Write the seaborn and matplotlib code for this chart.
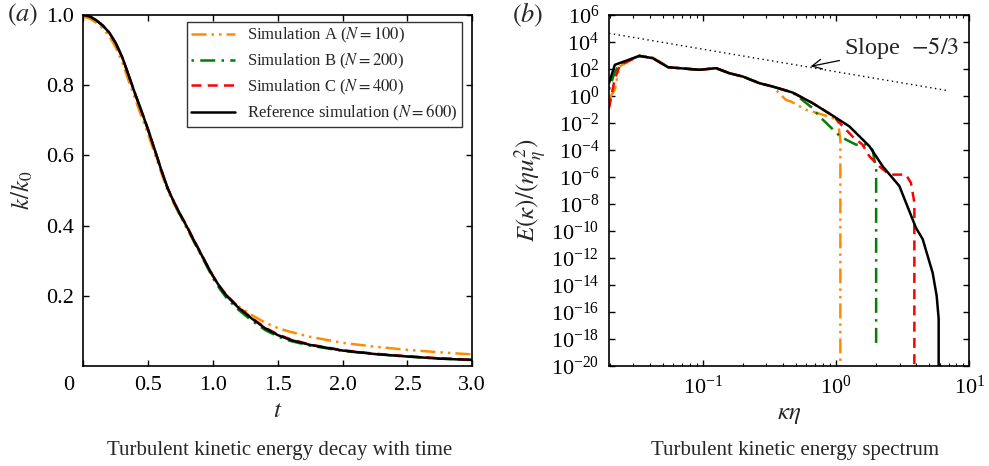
import numpy as np
import pandas as pd
import matplotlib
matplotlib.use("Agg")
import matplotlib.pyplot as plt
import matplotlib.ticker as mticker
import matplotlib.transforms as mtransforms
import seaborn as sns

# ---------------- data: panel (a) kinetic energy decay ----------------
t_grid = [0.0, 0.05, 0.1, 0.15, 0.2, 0.25, 0.3, 0.35, 0.4, 0.45, 0.5, 0.55, 0.6, 0.65, 0.7, 0.75,
          0.8, 0.85, 0.9, 0.95, 1.0, 1.05, 1.1, 1.15, 1.2, 1.3, 1.4, 1.5, 1.6, 1.75, 2.0, 2.25,
          2.5, 2.75, 3.0]
k_ref = [1.0, 0.996, 0.985, 0.97, 0.95, 0.92, 0.88, 0.828, 0.775, 0.725, 0.673, 0.617, 0.56, 0.507,
         0.466, 0.43, 0.396, 0.36, 0.325, 0.29, 0.256, 0.227, 0.202, 0.183, 0.165, 0.135, 0.108,
         0.088, 0.074, 0.06, 0.044, 0.034, 0.027, 0.021, 0.017]
k_a = [0.995, 0.99, 0.978, 0.962, 0.94, 0.908, 0.866, 0.812, 0.76, 0.71, 0.66, 0.606, 0.552, 0.5,
       0.461, 0.425, 0.391, 0.356, 0.322, 0.288, 0.255, 0.227, 0.204, 0.186, 0.169, 0.145, 0.124,
       0.108, 0.097, 0.083, 0.066, 0.055, 0.046, 0.039, 0.033]
k_b = [1.0, 0.996, 0.985, 0.97, 0.95, 0.92, 0.88, 0.828, 0.775, 0.725, 0.673, 0.617, 0.56, 0.507,
       0.466, 0.428, 0.394, 0.357, 0.321, 0.286, 0.25, 0.221, 0.196, 0.177, 0.159, 0.129, 0.103,
       0.084, 0.071, 0.058, 0.043, 0.034, 0.027, 0.021, 0.018]
k_c = [1.0, 0.996, 0.985, 0.97, 0.95, 0.92, 0.88, 0.828, 0.775, 0.725, 0.673, 0.617, 0.56, 0.507,
       0.467, 0.431, 0.398, 0.361, 0.326, 0.291, 0.257, 0.228, 0.204, 0.185, 0.167, 0.137, 0.11,
       0.09, 0.076, 0.061, 0.045, 0.035, 0.028, 0.022, 0.018]

# ---------------- data: panel (b) energy spectrum ----------------
kap_ref = [0.0198, 0.0219, 0.0335, 0.0422, 0.055, 0.0944, 0.126, 0.158, 0.2, 0.266, 0.335, 0.473, 0.668,
           0.944, 1.26, 1.78, 2.24, 2.99, 3.98, 4.47, 5.31, 5.69, 5.89, 5.89]
E_ref = [8.9, 204, 933, 631, 135, 87, 115, 49, 27.5, 8.9, 5.0, 1.8, 0.295,
         0.035, 5.6e-3, 1.9e-4, 6.2e-6, 2.1e-7, 1.7e-10, 2.5e-11, 7.9e-14, 1.6e-15, 3.2e-17, 1e-22]
kap_a = [0.0198, 0.0219, 0.0237, 0.028, 0.0335, 0.0422, 0.055, 0.0944, 0.126, 0.158, 0.2, 0.266, 0.335,
         0.42, 0.457, 0.596, 0.84, 1.03, 1.078, 1.078]
E_a = [0.6, 3.0, 150, 400, 1000, 700, 140, 88, 118, 50, 28, 9.0, 5.0,
       0.52, 0.4, 0.095, 0.035, 0.017, 5.8e-4, 1e-20]
kap_b = [0.0198, 0.0219, 0.024, 0.0335, 0.0422, 0.055, 0.0944, 0.126, 0.158, 0.2, 0.266, 0.335, 0.473,
         0.668, 0.75, 1.06, 1.19, 1.41, 1.68, 1.88, 2.0, 2.0]
E_b = [3.0, 60, 250, 950, 640, 135, 87, 115, 49, 27.5, 8.9, 5.0, 1.8,
       0.126, 0.031, 1.15e-3, 5.8e-4, 2.5e-4, 2.5e-4, 1.05e-4, 3.5e-6, 2e-19]
kap_c = [0.0198, 0.0219, 0.024, 0.0335, 0.0422, 0.055, 0.0944, 0.126, 0.158, 0.2, 0.266, 0.335, 0.473,
         0.668, 0.944, 1.33, 1.58, 1.78, 2.11, 2.51, 3.35, 3.65, 3.87, 3.87]
E_c = [0.126, 20, 200, 930, 630, 135, 87, 115, 49, 27.5, 8.9, 5.0, 1.8,
       0.295, 0.035, 1.0e-3, 2.5e-4, 3.4e-5, 6.3e-6, 1.5e-6, 1.5e-6, 3.6e-7, 1.3e-8, 1e-22]
slope_k = [0.0198, 6.9]
slope_E = [4.4e4, 2.5]

labels = [r"Simulation A ($N=100$)", r"Simulation B ($N=200$)",
          r"Simulation C ($N=400$)", r"Reference simulation ($N=600$)"]
colors = ["#FF8C00", "#008000", "#FF0000", "#000000"]
styles = [(0, (6, 2, 1, 2, 1, 2)), (0, (1, 2.5, 6, 2.5)), (0, (4, 2.5)), "-"]

# ---------------- style ----------------
sns.set_style("ticks")
plt.rcParams.update({
    "font.family": ["Liberation Serif", "DejaVu Serif"],
    "mathtext.fontset": "stix",
    "axes.linewidth": 1.2,
    "xtick.direction": "in", "ytick.direction": "in",
    "xtick.top": True, "ytick.right": True,
    "xtick.major.size": 4.5, "ytick.major.size": 4.5,
    "xtick.minor.size": 2.5, "ytick.minor.size": 2.5,
    "xtick.major.width": 1.0, "ytick.major.width": 1.0,
    "xtick.minor.width": 0.8,
    "xtick.color": "black", "ytick.color": "black",
    "axes.edgecolor": "black",
})

fig = plt.figure(figsize=(9.89, 4.66), dpi=100)
axA = fig.add_axes([83.3 / 989, 1 - 366 / 466, (472.3 - 83.3) / 989, (366 - 15) / 466])
axB = fig.add_axes([609 / 989, 1 - 366 / 466, (969.3 - 609) / 989, (366 - 15) / 466])

# ---------------- panel (a) ----------------
series_a = [k_a, k_b, k_c, k_ref]
for ys, lab, col, ls in zip(series_a, labels, colors, styles):
    sns.lineplot(x=t_grid, y=ys, ax=axA, color=col, linestyle=ls, lw=1.8,
                 label=lab, estimator=None, sort=False)
axA.set_xlim(0, 3.0)
axA.set_ylim(0, 1.0)
axA.set_xticks([0, 0.5, 1.0, 1.5, 2.0, 2.5, 3.0])
axA.set_xticklabels(["0", "0.5", "1.0", "1.5", "2.0", "2.5", "3.0"])
axA.set_yticks([0.2, 0.4, 0.6, 0.8, 1.0])
axA.set_yticklabels(["0.2", "0.4", "0.6", "0.8", "1.0"])
axA.tick_params(axis="both", labelsize=16, pad=7)
lbl0 = axA.get_xticklabels()[0]
lbl0.set_transform(lbl0.get_transform() + mtransforms.ScaledTranslation(-15 / 100, 0, fig.dpi_scale_trans))
axA.set_xlabel(r"$t$", fontsize=18, labelpad=4)
axA.set_ylabel(r"$k/k_0$", fontsize=18, labelpad=8)
leg = axA.legend(loc="upper right", bbox_to_anchor=(0.9735, 0.980), borderaxespad=0,
                 fontsize=12, frameon=True, fancybox=False, edgecolor="black",
                 handlelength=2.6, borderpad=0.25, labelspacing=0.38, handletextpad=0.75)
leg.get_frame().set_linewidth(1.0)
axA.text(-0.195, 1.0, r"$(a)$", transform=axA.transAxes, fontsize=19, ha="left", va="center")
fig.text(280 / 989, 1 - 450 / 466, "Turbulent kinetic energy decay with time", fontsize=15,
         ha="center", va="center")

# ---------------- panel (b) ----------------
axB.set_xscale("log")
axB.set_yscale("log")
series_b = [(kap_a, E_a), (kap_b, E_b), (kap_c, E_c), (kap_ref, E_ref)]
for (xs, ys), col, ls in zip(series_b, colors, styles):
    sns.lineplot(x=xs, y=ys, ax=axB, color=col, linestyle=ls, lw=1.8,
                 estimator=None, sort=False, legend=False)
sns.lineplot(x=slope_k, y=slope_E, ax=axB, color="black", linestyle=(0, (1, 2.5)), lw=1.0,
             estimator=None, sort=False, legend=False)
axB.set_xlim(0.0198, 10)
axB.set_ylim(1e-20, 1e6)
axB.set_yticks([10.0 ** e for e in range(-20, 7, 2)])
axB.yaxis.set_minor_locator(mticker.NullLocator())
axB.yaxis.set_major_formatter(mticker.LogFormatterSciNotation())
axB.set_xticks([0.1, 1, 10])
axB.xaxis.set_minor_locator(mticker.LogLocator(base=10, subs=np.arange(2, 10), numticks=20))
axB.xaxis.set_minor_formatter(mticker.NullFormatter())
axB.tick_params(axis="both", labelsize=16, pad=7)
axB.tick_params(axis="x", which="minor", top=True, bottom=True)
axB.set_xlabel(r"$\kappa\eta$", fontsize=18, labelpad=4)
axB.set_ylabel(r"$E(\kappa)/(\eta u_\eta^2)$", fontsize=18, labelpad=2)
axB.annotate(r"Slope  $-5/3$", xy=(0.63, 150), xytext=(1.15, 3.6e3), fontsize=17.5,
             ha="left", va="center",
             arrowprops=dict(arrowstyle="->", color="black", lw=0.9, shrinkA=1, shrinkB=1))
axB.text(-0.27, 1.0, r"$(b)$", transform=axB.transAxes, fontsize=19, ha="left", va="center")
fig.text(795 / 989, 1 - 450 / 466, "Turbulent kinetic energy spectrum", fontsize=15,
         ha="center", va="center")

for ax in (axA, axB):
    for sp in ax.spines.values():
        sp.set_visible(True)
        sp.set_color("black")

fig.savefig("out.png", dpi=100)
